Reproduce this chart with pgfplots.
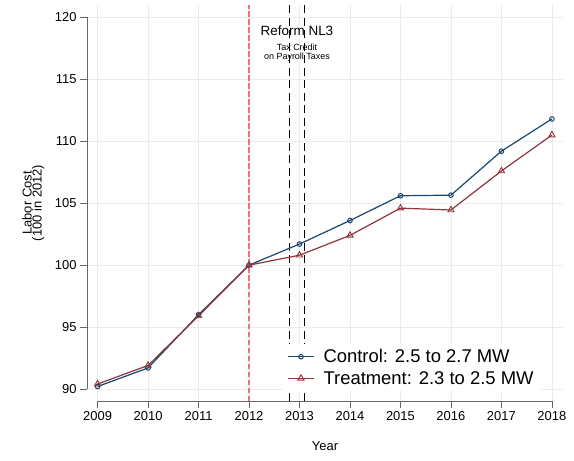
\documentclass[border=0pt]{standalone}
\usepackage{fontspec}
\setmainfont{Liberation Sans}
\usepackage{pgfplots}
\pgfplotsset{compat=1.18}
\definecolor{cblue}{HTML}{1A476F}
\definecolor{cred}{HTML}{90353B}
\definecolor{lred}{RGB}{248,110,118}
\begin{document}
\begin{tikzpicture}[x=1bp,y=1bp]
\begin{axis}[
  scale only axis,
  width=476bp, height=396bp,
  xmin=2008.79, xmax=2018.22,
  ymin=89.03, ymax=121.0,
  xtick={2009,...,2018},
  ytick={90,95,...,120},
  xticklabel style={/pgf/number format/1000 sep={}},
  /pgf/number format/assume math mode=true,
  tick label style={font=\fontsize{13}{15}\selectfont},
  xtick pos=bottom, ytick pos=left,
  tick align=outside,
  major tick length=7bp,
  tick style={gray!80!black, line width=0.6bp},
  axis line style={draw=none},
  grid=major,
  major grid style={gray!16, line width=0.6bp},
  xlabel={Year},
  xlabel style={at={(rel axis cs:0.5,-0.113)}, anchor=center, font=\fontsize{13}{15}\selectfont},
  ylabel={Labor Cost\\(100 in 2012)},
  ylabel style={at={(rel axis cs:-0.113,0.500)}, anchor=center, align=center, font=\fontsize{13}{10}\selectfont},
  legend style={at={(rel axis cs:0.41,0.026)}, anchor=south west, draw=none, fill=white,
    font=\fontsize{18.5}{22}\selectfont, row sep=3bp, inner xsep=5bp, inner ysep=3bp,
    /tikz/every odd column/.append style={column sep=7bp},
    /tikz/every even column/.append style={column sep=0bp}},
  legend cell align=left,
  legend image code/.code={\draw[mark repeat=2,mark phase=2] plot coordinates {(0bp,0bp) (13bp,0bp) (26bp,0bp)};},
  clip=false,
]
% axis lines
\draw[gray!80!black, line width=0.7bp] (axis cs:2008.79,90) -- (axis cs:2008.79,120);
\draw[gray!80!black, line width=0.7bp] (axis cs:2009,89.03) -- (axis cs:2018,89.03);
% reference lines
\draw[lred, line width=1.4bp, dash pattern=on 5.5bp off 2.5bp] (axis cs:2012,89.03) -- (axis cs:2012,121.0);
\draw[black, line width=1.1bp, dash pattern=on 8bp off 4.5bp] (axis cs:2012.8,89.03) -- (axis cs:2012.8,121.0);
\draw[black, line width=1.1bp, dash pattern=on 8bp off 4.5bp] (axis cs:2013.1,89.03) -- (axis cs:2013.1,121.0);
\node[font=\fontsize{13.5}{15}\selectfont, inner sep=1bp] at (axis cs:2012.95,118.95) {Reform NL3};
\node[font=\fontsize{9}{9.5}\selectfont, align=center, inner sep=1bp] at (axis cs:2012.95,117.15) {Tax Credit\\on Payroll Taxes};

\addplot[cblue, line width=1.2bp, mark=o, mark size=2.3bp, mark options={line width=1bp, fill=white}]
coordinates {
(2009,90.2) (2010,91.7) (2011,96.0) (2012,100.0) (2013,101.7)
(2014,103.6) (2015,105.6) (2016,105.65) (2017,109.2) (2018,111.8)
};
\addlegendentry{Control: 2.5 to 2.7 MW}
\addplot[cred, line width=1.2bp, mark=triangle, mark size=3.6bp, mark options={line width=0.9bp, fill=white}]
coordinates {
(2009,90.4) (2010,91.9) (2011,95.9) (2012,100.0) (2013,100.8)
(2014,102.4) (2015,104.6) (2016,104.45) (2017,107.6) (2018,110.5)
};
\addlegendentry{Treatment: 2.3 to 2.5 MW}
\end{axis}
\path (current axis.south west) ++(-87bp,-60bp) rectangle ++(574bp,461bp);
\end{tikzpicture}
\end{document}
